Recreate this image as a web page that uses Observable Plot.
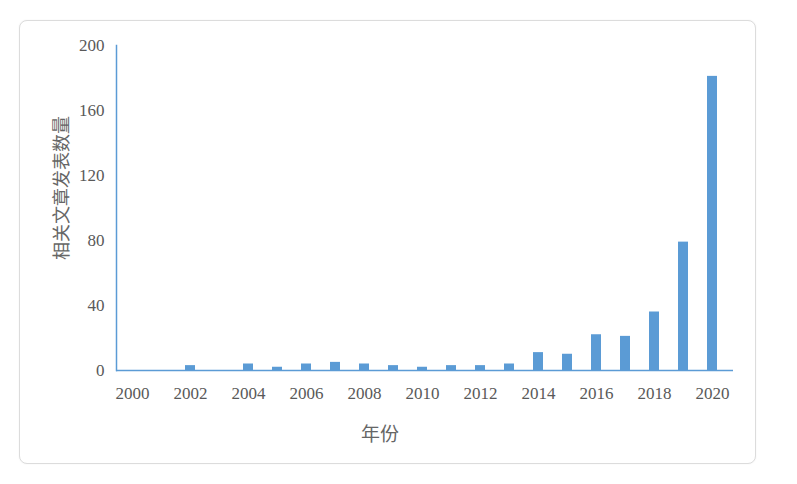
<!DOCTYPE html>
<html>
<head>
<meta charset="utf-8">
<script src="https://cdn.jsdelivr.net/npm/d3@7"></script>
<script src="https://cdn.jsdelivr.net/npm/@observablehq/plot@0.6"></script>
<style>
  html, body { margin: 0; padding: 0; background: #fff; }
  #wrap { position: relative; width: 797px; height: 484px; overflow: hidden; }
  #card { position: absolute; left: 19px; top: 20px; width: 735px; height: 442px;
          border: 1px solid #dcdcdc; border-radius: 8px; box-shadow: 0 0 2px rgba(0,0,0,0.06); background: #fff; }
  #chart { position: absolute; left: 0; top: 0; }
  #ylab { position: absolute; left: 60px; top: 188px; transform: translate(-50%, -50%) rotate(-90deg);
          font-family: "Noto Sans CJK SC", serif; font-size: 18px; color: #666; white-space: nowrap; }
  #xlab { position: absolute; left: 380px; top: 432px; transform: translate(-50%, -50%);
          font-family: "Noto Sans CJK SC", serif; font-size: 19px; color: #666; white-space: nowrap; }
</style>
</head>
<body>
<div id="wrap">
  <div id="card"></div>
  <div id="chart"></div>
  <div id="ylab">相关文章发表数量</div>
  <div id="xlab">年份</div>
</div>
<script>
const years = ["2000","2001","2002","2003","2004","2005","2006","2007","2008","2009","2010",
               "2011","2012","2013","2014","2015","2016","2017","2018","2019","2020"];
const counts = [0,0,3,0,4,2,4,5,4,3,2,3,3,4,11,10,22,21,36,79,181];
const xTickLabels = ["2000","2002","2004","2006","2008","2010","2012","2014","2016","2018","2020"];
const yTicks = [0,40,80,120,160,200];

const data = years.map((y, i) => ({year: y, count: counts[i]}));

const chart = Plot.plot({
  width: 797,
  height: 484,
  marginLeft: 116,
  marginRight: 64,
  marginTop: 45,
  marginBottom: 114,
  style: {background: "transparent", fontFamily: "'Liberation Serif', 'DejaVu Serif', serif", fontSize: "17px", color: "#595959"},
  x: {domain: years, paddingInner: 0.66, paddingOuter: 0.33, align: 0.42},
  y: {domain: [0, 200]},
  marks: [
    Plot.barY(data, {x: "year", y: "count", fill: "#5b9bd5"}),
    Plot.ruleY([0], {stroke: "#5b9bd5", strokeWidth: 1.5}),
    Plot.frame({anchor: "left", stroke: "#5b9bd5", strokeWidth: 1.5}),
    Plot.axisY({ticks: yTicks, tickSize: 0, tickPadding: 12, label: null, fontSize: 17, fill: "#595959"}),
    Plot.axisX({ticks: xTickLabels, tickSize: 0, tickPadding: 16, label: null, fontSize: 17, fill: "#595959"})
  ]
});
document.getElementById("chart").appendChild(chart);
</script>
</body>
</html>
